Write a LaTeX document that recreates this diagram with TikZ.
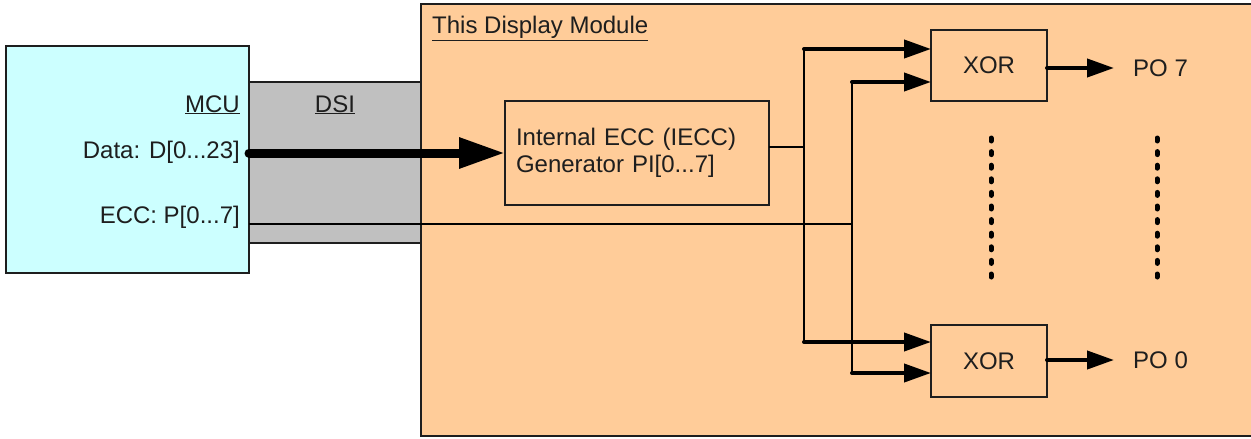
\documentclass[tikz,border=0pt]{standalone}
\usepackage{fontspec}
\setmainfont{Liberation Sans}
\usetikzlibrary{arrows.meta}
\definecolor{modfill}{HTML}{FFCC99}
\definecolor{mcufill}{HTML}{CCFFFF}
\definecolor{dsifill}{HTML}{C0C0C0}
\definecolor{inkc}{HTML}{1E1E1E}
\begin{document}
\begin{tikzpicture}[x=1pt,y=-1pt,
  font=\fontsize{24}{27}\selectfont,
  box/.style={draw=inkc, line width=1.8pt, inner sep=0pt, outer sep=0pt},
  lbl/.style={inner sep=0pt, text=inkc},
  dataarrow/.style={draw=black, line width=9pt, line cap=round, -{Triangle[length=46pt,width=29pt]}},
  inarrow/.style={draw=black, line width=4pt, line cap=round, -{Triangle[length=27pt,width=18pt]}},
  busline/.style={draw=black, line width=2.5pt},
  thinline/.style={draw=black, line width=2pt},
  dotline/.style={draw=black, line width=5pt, line cap=round, dash pattern=on 3pt off 10.6pt}]
\useasboundingbox (0,0) rectangle (1251,439);
% module and interface
\node[box, fill=modfill, anchor=north west, minimum width=834, minimum height=432] (module) at (421,4) {};
\node[box, fill=dsifill, anchor=north west, minimum width=172, minimum height=161] (dsi) at (249,82) {};
\node[box, fill=mcufill, anchor=north west, minimum width=243, minimum height=227] (mcu) at (6,46) {};
% labels
\node[lbl, anchor=base east] (mculbl) at (240,112) {\underline{MCU}};
\node[lbl, anchor=base] (dsilbl) at (335,112) {\underline{DSI}};
\node[lbl, anchor=base east] (datalbl) at (240,158) {Data: D[0...23]};
\node[lbl, anchor=base east] (ecclbl) at (240,223) {ECC: P[0...7]};
\node[lbl, anchor=base west] (modlbl) at (432,34) {\underline{This Display Module}};
% blocks
\node[box, text=inkc, anchor=north west, text width=242, inner xsep=11pt, minimum height=104, align=left] (iecc) at (505,101) {Internal ECC (IECC)\\Generator PI[0...7]};
\node[box, text=inkc, minimum width=116, minimum height=71] (xor7) at (989,65.5) {XOR};
\node[box, text=inkc, minimum width=116, minimum height=72] (xor0) at (989,361) {XOR};
\node[lbl, anchor=west, inner xsep=19pt] (po7) at (1114,68) {PO 7};
\node[lbl, anchor=west, inner xsep=19pt] (po0) at (1114,360) {PO 0};
% junction points
\coordinate (ieccout) at (769,147);
\coordinate (ja) at (804,147);
\coordinate (a7) at (804,49);
\coordinate (a0) at (804,342);
\coordinate (b7) at (852,82);
\coordinate (b0) at (852,373);
\coordinate (eccsrc) at (249,224);
\coordinate (eccj) at (852,224);
% connectors
\draw[thinline] (eccsrc) -- (eccj);
\draw[dataarrow] (iecc.west -| mcu.east) -- (iecc.west);
\draw[thinline] (ieccout) -- (ja);
\draw[busline] (a7) -- (a0);
\draw[busline] (b7) -- (b0);
\draw[inarrow] (a7) -- (a7 -| xor7.west);
\draw[inarrow] (b7) -- (b7 -| xor7.west);
\draw[inarrow] (a0) -- (a0 -| xor0.west);
\draw[inarrow] (b0) -- (b0 -| xor0.west);
\draw[inarrow] (xor7.east |- po7.west) -- (po7.west);
\draw[inarrow] (xor0.east |- po0.west) -- (po0.west);
% continuation dots
\coordinate (d1t) at (991,138);
\coordinate (d1b) at (991,278);
\coordinate (d2t) at (1157,138);
\coordinate (d2b) at (1157,278);
\draw[dotline] (d1t) -- (d1b);
\draw[dotline] (d2t) -- (d2b);
\end{tikzpicture}
\end{document}
